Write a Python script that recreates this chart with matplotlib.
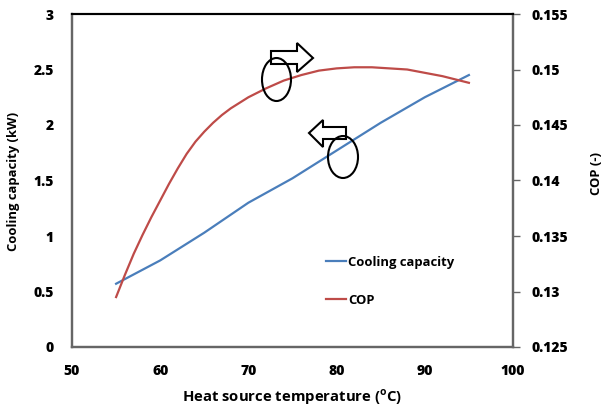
import matplotlib
matplotlib.use('Agg')
import matplotlib.pyplot as plt
from matplotlib.patches import Ellipse, Polygon

plt.rcParams['font.family'] = ['Open Sans', 'DejaVu Sans']
plt.rcParams['font.weight'] = 'bold'
plt.rcParams['mathtext.fontset'] = 'custom'
plt.rcParams['mathtext.bf'] = 'Open Sans:bold'
plt.rcParams['mathtext.rm'] = 'Open Sans:bold'

# data
cap_temp = [55, 60, 65, 70, 75, 80, 85, 90, 95]
cap_kw = [0.57, 0.78, 1.03, 1.30, 1.52, 1.77, 2.02, 2.25, 2.45]

cop_temp = [55, 56, 57, 58, 59, 60, 61, 62, 63, 64, 65, 66, 67, 68, 70, 72,
            74, 76, 78, 80, 82, 84, 86, 88, 90, 92, 94, 95]
cop = [0.1295, 0.1315, 0.1334, 0.1351, 0.1367, 0.1382, 0.1397, 0.1411,
       0.1424, 0.1435, 0.1444, 0.1452, 0.1459, 0.1465, 0.1475, 0.1483,
       0.1490, 0.1495, 0.1499, 0.1501, 0.1502, 0.1502, 0.1501, 0.1500,
       0.1497, 0.1494, 0.1490, 0.1488]

x_ticks = [50, 60, 70, 80, 90, 100]
y_ticks = [0, 0.5, 1, 1.5, 2, 2.5, 3]
y_labels = ['0', '0.5', '1', '1.5', '2', '2.5', '3']
cop_ticks = [0.125, 0.13, 0.135, 0.14, 0.145, 0.15, 0.155]
cop_labels = ['0.125', '0.13', '0.135', '0.14', '0.145', '0.15', '0.155']

W, H = 605, 408
fig = plt.figure(figsize=(W / 100, H / 100), dpi=100)
ax = fig.add_axes([72 / W, 1 - 347 / H, (513 - 72) / W, (347 - 14) / H])
ax2 = ax.twinx()

blue = '#4A7EBB'
red = '#BE4B48'
l1, = ax.plot(cap_temp, cap_kw, color=blue, lw=1.6, label='Cooling capacity')
l2, = ax2.plot(cop_temp, cop, color=red, lw=1.6, label='COP')

ax.set_xlim(50, 100)
ax.set_ylim(0, 3)
ax2.set_ylim(0.125, 0.155)
ax.set_xticks(x_ticks)
ax.set_xticklabels([str(t) for t in x_ticks])
ax.set_yticks(y_ticks)
ax.set_yticklabels(y_labels)
ax2.set_yticks(cop_ticks)
ax2.set_yticklabels(cop_labels)
for lab in ax.get_xticklabels() + ax.get_yticklabels() + ax2.get_yticklabels():
    lab.set_fontweight(800)
    lab.set_fontsize(10)

ax.tick_params(axis='both', length=0)
ax.tick_params(axis='y', pad=13)
ax.tick_params(axis='x', pad=12)
ax2.tick_params(axis='y', length=5, width=1, color='#666666', direction='out',
                pad=8)

for a in (ax, ax2):
    for side in ('left', 'bottom', 'right'):
        a.spines[side].set_color('#666666')
        a.spines[side].set_linewidth(1.6)
    a.spines['top'].set_color('black')
    a.spines['top'].set_linewidth(1.5)

fig.text(292 / W, 1 - 397 / H, r'Heat source temperature ($^{\mathbf{o}}$C)',
         ha='center', va='center', fontsize=10.7, fontweight='bold')
fig.text(14 / W, 1 - 181 / H, 'Cooling capacity (kW)', rotation=90,
         ha='center', va='center', fontsize=9.4, fontweight='bold')
fig.text(597 / W, 1 - 173 / H, 'COP (-)', rotation=90,
         ha='center', va='center', fontsize=9.4, fontweight='bold')

ax.legend([l1, l2], ['Cooling capacity', 'COP'], loc='upper left',
          bbox_to_anchor=(326 / W, 1 - 256 / H), bbox_transform=fig.transFigure,
          frameon=False, handlelength=1.5, handletextpad=0.2,
          labelspacing=1.9, borderpad=0, borderaxespad=0,
          prop={'weight': 'bold', 'size': 9.4})


# annotation shapes, placed by figure pixel
def px(x, y):
    return (x / W, 1 - y / H)


right_arrow = [(271, 51), (297, 51), (297, 43), (313, 58), (297, 72), (297, 64), (271, 64)]
left_arrow = [(309, 133), (323, 120), (323, 127), (346, 127), (346, 139), (323, 139), (323, 147)]
for pts in (right_arrow, left_arrow):
    fig.patches.append(Polygon([px(*p) for p in pts], closed=True, facecolor='white',
                               edgecolor='black', lw=1.5, transform=fig.transFigure,
                               zorder=5))
for cx, cy, w, h in [(276.5, 79.5, 29, 43), (343, 157, 30, 42)]:
    fig.patches.append(Ellipse(px(cx, cy), w / W, h / H, facecolor='none',
                               edgecolor='black', lw=1.5, transform=fig.transFigure,
                               zorder=6))

fig.savefig('out.png', dpi=100)
